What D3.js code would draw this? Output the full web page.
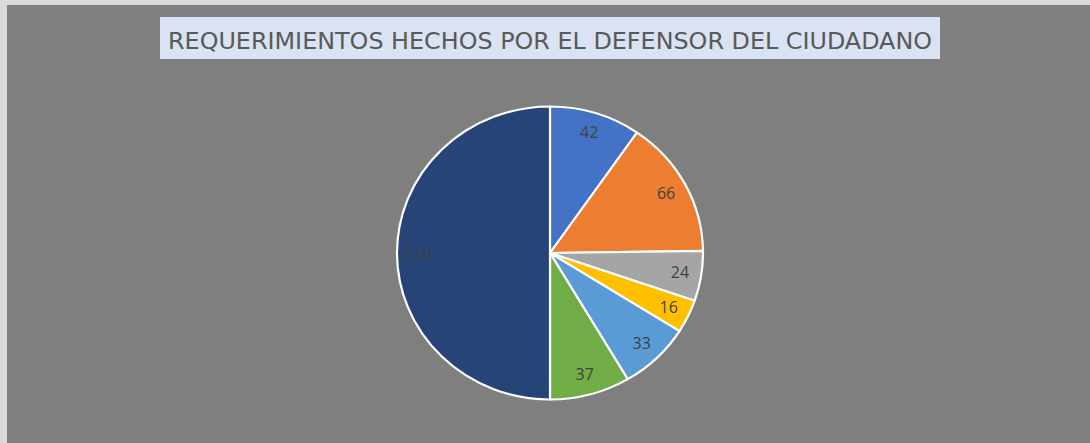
<!DOCTYPE html>
<html>
<head>
<meta charset="utf-8">
<script src="https://cdn.jsdelivr.net/npm/d3@7"></script>
<style>
  html, body { margin: 0; padding: 0; background: #d9d9d9; }
  svg { display: block; }
</style>
</head>
<body>
<div id="chart"></div>
<script>
// Data
const categories = ['A', 'B', 'C', 'D', 'E', 'F', 'G'];
const values = [42, 66, 24, 16, 33, 37, 218];
const colors = ['#4472C4', '#ED7D31', '#A5A5A5', '#FFC000', '#5B9BD5', '#70AD47', '#264478'];
const title = 'REQUERIMIENTOS HECHOS POR EL DEFENSOR DEL CIUDADANO';

const width = 1090, height = 443;
const cx = 550, cy = 253, radius = 153, squash = 146.5 / 153;

const svg = d3.select('#chart')
  .append('svg')
  .attr('width', width)
  .attr('height', height);

// chart area
svg.append('rect')
  .attr('x', 7).attr('y', 5)
  .attr('width', width - 7).attr('height', height - 5)
  .attr('fill', '#7f7f7f');

// title box
svg.append('rect')
  .attr('x', 160).attr('y', 17)
  .attr('width', 780).attr('height', 42)
  .attr('fill', '#dae3f3');

svg.append('text')
  .attr('x', 550).attr('y', 48.5)
  .attr('text-anchor', 'middle')
  .attr('textLength', 764)
  .attr('lengthAdjust', 'spacingAndGlyphs')
  .style('font-family', "'Liberation Sans Narrow', 'DejaVu Sans Condensed', 'Open Sans', sans-serif")
  .style('font-size', '23px')
  .style('fill', '#595959')
  .text(title);

const data = categories.map((c, i) => ({ name: c, value: values[i], color: colors[i] }));

const pie = d3.pie().sort(null).value(d => d.value);
const arcs = pie(data);
const arc = d3.arc().innerRadius(0).outerRadius(radius);
const labelArc = d3.arc().innerRadius(radius * 0.86).outerRadius(radius * 0.86);

const g = svg.append('g')
  .attr('transform', `translate(${cx},${cy}) scale(1,${squash})`);

g.selectAll('path')
  .data(arcs)
  .enter().append('path')
  .attr('d', arc)
  .attr('fill', d => d.data.color)
  .attr('stroke', '#fff')
  .attr('stroke-width', 2.2)
  .attr('stroke-linejoin', 'round');

svg.append('g')
  .attr('transform', `translate(${cx},${cy})`)
  .selectAll('text')
  .data(arcs)
  .enter().append('text')
  .attr('x', d => labelArc.centroid(d)[0])
  .attr('y', d => labelArc.centroid(d)[1] * squash)
  .attr('dy', '0.35em')
  .attr('text-anchor', 'middle')
  .style('font-family', "'Open Sans', 'Liberation Sans', sans-serif")
  .style('font-size', '16px')
  .style('fill', '#404040')
  .text(d => d.data.value);
</script>
</body>
</html>
